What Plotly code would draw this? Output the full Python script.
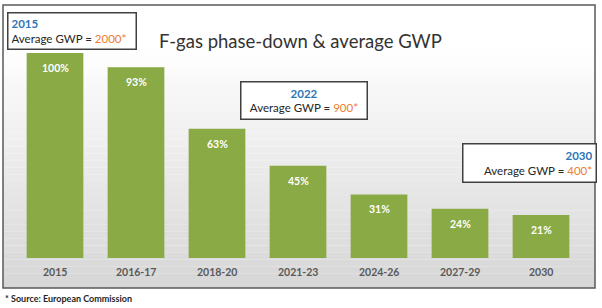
import plotly.graph_objects as go

categories = ["2015", "2016-17", "2018-20", "2021-23", "2024-26", "2027-29", "2030"]
values = [100, 93, 63, 45, 31, 24, 21]
value_labels = ["100%", "93%", "63%", "45%", "31%", "24%", "21%"]
gwp_years = ["2015", "2022", "2030"]
gwp_values = ["2000*", "900*", "400*"]

W, H = 602, 308
L, R, T, B = 3, 595, 5, 288  # frame in pixels
pw, ph = R - L, B - T

def px(x):
    return (x - L) / pw

def py(y):
    return (B - y) / ph

FONT = "Lato, Open Sans, sans-serif"
xs = list(range(len(categories)))

fig = go.Figure()
fig.add_trace(go.Bar(
    x=xs, y=values, width=0.7,
    marker=dict(color="#89aa45", line=dict(width=0)),
    hoverinfo="skip",
))

annotations = []
for i, (v, lab) in enumerate(zip(values, value_labels)):
    annotations.append(dict(x=i, y=v - 7.2, xref="x", yref="y", text=f"<b>{lab}</b>",
                            showarrow=False, font=dict(family=FONT, size=10.5, color="white")))
for i, c in enumerate(categories):
    annotations.append(dict(x=i, y=-6.9, xref="x", yref="y", text=f"<b>{c}</b>",
                            showarrow=False, font=dict(family=FONT, size=10.5, color="#595959")))

# title
annotations.append(dict(x=px(300), y=py(28), xref="paper", yref="paper",
                        text="F-gas phase-down & average GWP", showarrow=False,
                        font=dict(family=FONT, size=18.5, color="#333333")))

# GWP boxes
boxes = [
    (7, 12, 130, 38, "left"),
    (240, 81, 128, 39, "center"),
    (462, 143, 135, 40, "right"),
]
for (bx, by, bw, bh, al), yr, gv in zip(boxes, gwp_years, gwp_values):
    txt = (f"<b><span style='color:#2e75b6'>{yr}</span></b><br>"
           f"Average GWP = <span style='color:#ed7d31'>{gv}</span>")
    annotations.append(dict(x=px(bx), y=py(by), xref="paper", yref="paper",
                            xanchor="left", yanchor="top", align=al,
                            text=txt, showarrow=False, width=bw - 9, height=bh - 9,
                            borderpad=3, borderwidth=1.5, bordercolor="#404040",
                            bgcolor="white",
                            font=dict(family=FONT, size=11.5, color="#262626")))

# footnote
annotations.append(dict(x=px(3), y=py(291), xref="paper", yref="paper",
                        xanchor="left", yanchor="top",
                        text="<b>* Source: European Commission</b>", showarrow=False,
                        font=dict(family=FONT, size=9, color="#262626")))

# gradient background
shapes = []
n = 40
for k in range(n):
    f = k / (n - 1)
    g = int(255 - 40 * max(0, f - 0.15) / 0.85)
    shapes.append(dict(type="rect", xref="paper", yref="paper", x0=0, x1=1,
                       y0=1 - (k + 1) / n, y1=1 - k / n, layer="below",
                       fillcolor=f"rgb({g},{g},{g})", line=dict(width=0)))
shapes.append(dict(type="rect", xref="paper", yref="paper", x0=0, x1=1, y0=0, y1=1,
                   line=dict(color="#595959", width=1.5)))

scale = 81.0
x0 = -(55 - L) / scale
yscale = 2.05
y0 = -(B - 258) / yscale

fig.update_layout(
    width=W, height=H,
    margin=dict(l=L, r=W - R, t=T, b=H - B),
    paper_bgcolor="white", plot_bgcolor="white",
    showlegend=False,
    xaxis=dict(range=[x0, x0 + pw / scale], visible=False, fixedrange=True),
    yaxis=dict(range=[y0, y0 + ph / yscale], visible=False, fixedrange=True),
    annotations=annotations, shapes=shapes,
    bargap=0.3,
)
fig.write_html("out.html")
